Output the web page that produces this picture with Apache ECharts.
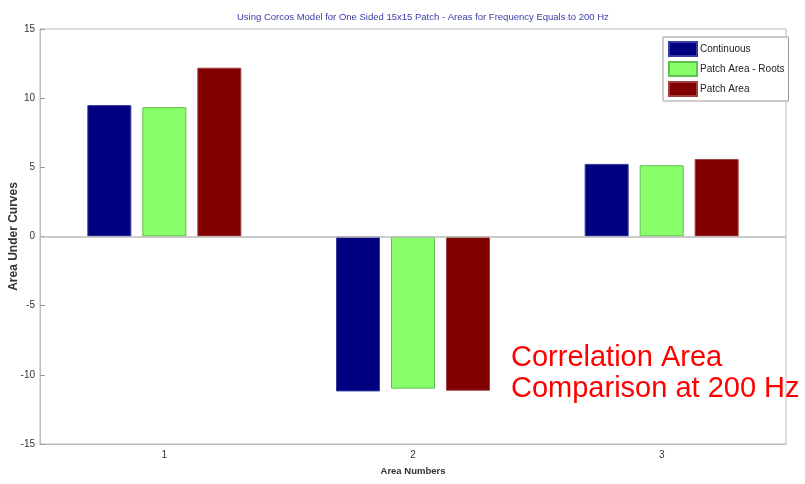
<!DOCTYPE html>
<html><head><meta charset="utf-8">
<script src="https://cdn.jsdelivr.net/npm/echarts@6/dist/echarts.min.js"></script>
<style>html,body{margin:0;padding:0;background:#fff}#c{width:805px;height:484px}</style>
</head><body><div id="c"></div>
<script>
const categories = ['1', '2', '3'];
const continuous = [9.5, -11.2, 5.25];
const patchRoots = [9.35, -11.0, 5.15];
const patchArea = [12.2, -11.15, 5.6];
const seriesNames = ['Continuous', 'Patch Area - Roots', 'Patch Area'];
const yTicks = {min: -15, max: 15, interval: 5};

const font = '"Liberation Sans Narrow", "Arial Narrow", "Liberation Sans", sans-serif';
const chart = echarts.init(document.getElementById('c'));
const colors = ['#000080', '#88ff6a', '#800000'];
const edges = ['#3a3aa0', '#5fbf50', '#a04040'];
const data = [continuous, patchRoots, patchArea];
chart.setOption({
  animation: false,
  backgroundColor: '#fff',
  title: {
    text: 'Using Corcos Model for One Sided 15x15 Patch - Areas for Frequency Equals to 200 Hz',
    left: 232, top: 7,
    textStyle: {fontSize: 9.5, fontWeight: 'normal', color: '#3a3aa8', fontFamily: font}
  },
  legend: {
    orient: 'vertical', left: 663, top: 37,
    icon: 'rect',
    itemWidth: 28, itemHeight: 14, itemGap: 4,
    padding: [4, 4, 4, 5],
    borderColor: '#999', borderWidth: 1, backgroundColor: '#fff',
    textStyle: {fontSize: 10, color: '#222', fontFamily: font, padding: [0, 0, 0, -2]},
    data: seriesNames
  },
  grid: {left: 40, right: 19, top: 29, bottom: 40, show: true, borderColor: '#bbb', borderWidth: 1,
    containLabel: false, outerBoundsMode: 'none'},
  xAxis: {
    type: 'category', data: categories,
    name: 'Area Numbers', nameLocation: 'middle', nameGap: 22, nameMoveOverlap: false,
    nameTextStyle: {fontSize: 9.5, fontWeight: 'bold', color: '#333', fontFamily: font},
    axisLine: {onZero: false, lineStyle: {color: '#bbb'}},
    axisTick: {alignWithLabel: true, inside: true, length: 5, lineStyle: {color: '#999'}},
    axisLabel: {fontSize: 10, color: '#333', fontFamily: font, margin: 6},
    splitLine: {show: false}
  },
  yAxis: {
    type: 'value', min: yTicks.min, max: yTicks.max, interval: yTicks.interval,
    name: 'Area Under Curves', nameLocation: 'middle', nameGap: 20, nameMoveOverlap: false,
    nameTextStyle: {fontSize: 12, fontWeight: 'bold', color: '#333', fontFamily: font},
    axisLine: {show: true, lineStyle: {color: '#bbb'}},
    axisTick: {show: true, inside: true, length: 5, lineStyle: {color: '#999'}},
    axisLabel: {fontSize: 10, color: '#333', fontFamily: font, margin: 5},
    splitLine: {show: false}
  },
  graphic: [{
    type: 'text', left: 511, top: 342,
    style: {text: 'Correlation Area\nComparison at 200 Hz', fill: '#ff0000',
      font: '29px "Liberation Sans", Arial, sans-serif', lineHeight: 31}
  }],
  series: data.map((d, i) => ({
    name: seriesNames[i], type: 'bar', data: d,
    barWidth: 44, barGap: '25%',
    itemStyle: {color: colors[i], borderColor: edges[i], borderWidth: 1},
    markLine: i === 0 ? {silent: true, symbol: 'none', label: {show: false},
      lineStyle: {color: '#bbb', type: 'solid', width: 1.5}, data: [{yAxis: 0}]} : undefined,
    z: 3
  }))
});
</script></body></html>
